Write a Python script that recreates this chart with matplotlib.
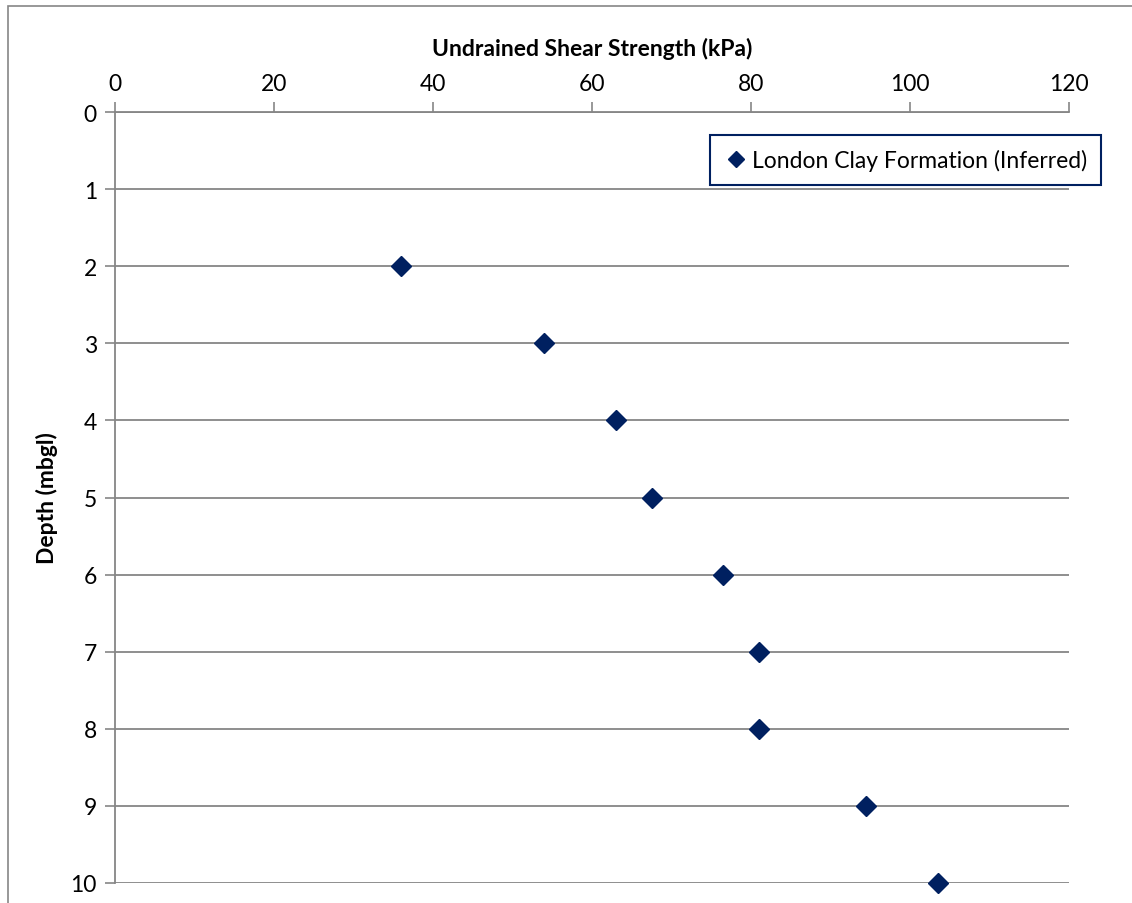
import matplotlib.pyplot as plt
from matplotlib.patches import Rectangle

strength_kpa = [36, 54, 63, 67.5, 76.5, 81, 81, 94.5, 103.5]
depth_mbgl = [2, 3, 4, 5, 6, 7, 8, 9, 10]
series_name = "London Clay Formation (Inferred)"

x_ticks = [0, 20, 40, 60, 80, 100, 120]
y_ticks = [0, 1, 2, 3, 4, 5, 6, 7, 8, 9, 10]

grey = "#868686"
navy = "#002060"

plt.rcParams["font.family"] = ["Lato", "DejaVu Sans"]

fig = plt.figure(figsize=(11.32, 9.04), dpi=100)
fig.patches.append(
    Rectangle((7.5 / 1132, -0.1), 1.2, 1.1 - 7 / 904, transform=fig.transFigure,
              fill=False, edgecolor=grey, linewidth=1.2)
)
ax = fig.add_axes([115 / 1132, 20 / 904, 954 / 1132, 771 / 904])

ax.plot(strength_kpa, depth_mbgl, linestyle="none", marker="D", markersize=10.5,
        color=navy, markeredgecolor=navy, label=series_name, clip_on=False, zorder=3)

ax.set_xlim(0, 120)
ax.set_ylim(10, 0)
ax.set_xticks(x_ticks)
ax.set_yticks(y_ticks)
ax.xaxis.tick_top()
ax.xaxis.set_label_position("top")
ax.set_xlabel("Undrained Shear Strength (kPa)", fontsize=16.5, fontweight="bold", labelpad=13)
ax.set_ylabel("Depth (mbgl)", fontsize=16.5, fontweight="bold", labelpad=9)
ax.tick_params(axis="both", labelsize=16.5, colors=grey, labelcolor="black",
               length=7, width=1.2, direction="out", pad=6)

ax.grid(axis="y", color=grey, linewidth=1.3)
ax.set_axisbelow(True)
for side in ("right", "bottom"):
    ax.spines[side].set_visible(False)
for side in ("left", "top"):
    ax.spines[side].set_color(grey)
    ax.spines[side].set_linewidth(1.3)

legend = ax.legend(loc="upper right", bbox_to_anchor=(1101 / 1132, 1 - 136 / 904),
                   bbox_transform=fig.transFigure, borderaxespad=0, fontsize=16.5,
                   fancybox=False, framealpha=1, handletextpad=0.15,
                   handlelength=1.1, borderpad=0.6, markerscale=0.8)
legend.get_frame().set_edgecolor(navy)
legend.get_frame().set_linewidth(1.5)

fig.savefig("out.png", dpi=100)
